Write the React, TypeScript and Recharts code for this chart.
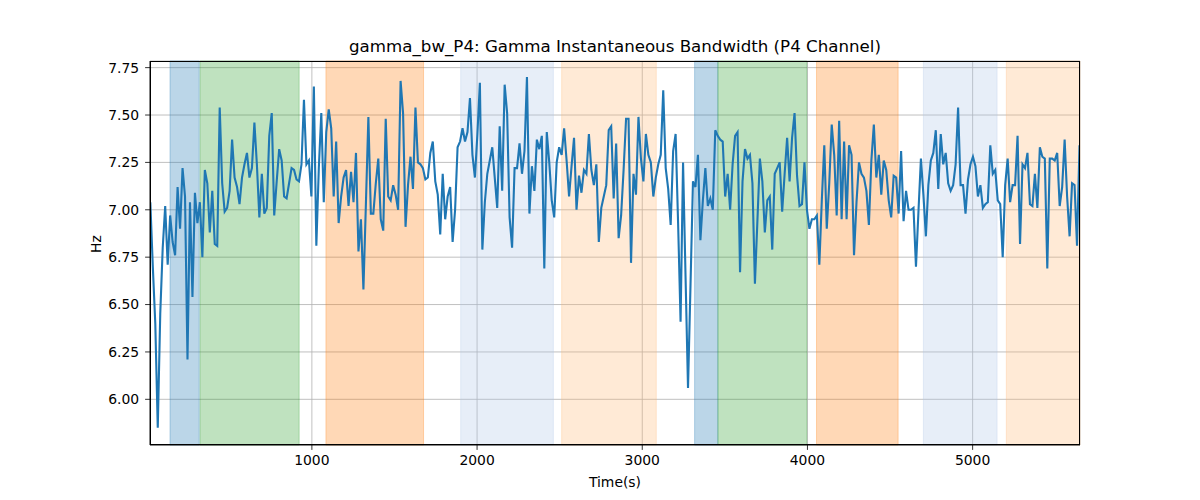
import { LineChart, Line, XAxis, YAxis, CartesianGrid, ReferenceArea } from "recharts";

// sampling of the time axis
const START_T = 22;
const STEP_T = 15;

// gamma bandwidth (Hz), read left to right in five stretches
const BW_A = [
  7.04, 6.7, 6.4, 5.85, 6.45, 6.8, 7.02, 6.71, 6.97, 6.83, 6.76, 7.12, 6.9, 7.22, 7.07, 6.21, 7.04,
  6.54, 7.09, 6.93, 7.04, 6.75, 7.21, 7.14, 6.88, 7.1, 6.82, 6.81, 7.54, 7.14, 6.99, 7.01, 7.1, 7.37,
  7.17, 7.12, 7.03, 7.17, 7.24, 7.3, 7.17, 7.22, 7.46, 7.24, 6.96, 7.19, 6.98, 7.01, 7.39, 7.51, 6.97,
  7.15, 7.32, 7.26, 7.07, 7.06, 7.14, 7.22, 7.21, 7.16, 7.15, 7.24, 7.58, 7.24, 7.26, 7.07, 7.65, 6.81,
  7.22, 7.51, 7.04, 7.41, 7.53, 7.43, 7.07, 7.36,
];
const BW_B = [
  6.93, 7.07, 7.17, 7.21, 7.02, 7.2, 7.04, 7.3, 6.78, 6.95, 6.58, 7.03, 7.49, 6.98, 6.98, 7.14, 7.27,
  6.95, 6.89, 7.48, 7.07, 7.05, 7.13, 7.08, 7.0, 7.68, 7.51, 6.91, 7.13, 7.28, 7.11, 7.54, 7.25, 7.24,
  7.22, 7.16, 7.17, 7.3, 7.36, 7.15, 7.08, 6.87, 7.19, 6.95, 7.07, 7.12, 6.83, 7.0, 7.33, 7.36, 7.43,
  7.36, 7.41, 7.59, 7.29, 7.17, 7.4, 7.67, 6.79, 7.04, 7.19, 7.26, 7.33, 7.17, 7.01, 7.44, 7.1, 7.66,
  7.51, 6.96, 6.8, 7.22, 7.22,
];
const BW_C = [
  7.35, 7.19, 7.31, 7.7, 6.98, 7.23, 7.1, 7.37, 7.32, 7.39, 6.69, 7.41, 7.25, 7.05, 6.96, 7.25, 7.33,
  7.29, 7.43, 7.26, 7.07, 7.23, 7.38, 7.0, 7.18, 7.09, 7.21, 7.19, 7.4, 7.21, 7.13, 7.24, 6.83, 7.01,
  7.07, 7.13, 7.42, 7.44, 7.06, 7.35, 6.85, 6.97, 7.21, 7.48, 7.48, 6.72, 7.19, 7.08, 7.49, 7.27, 7.15,
  7.4, 7.29, 7.25, 7.07, 7.17, 7.24, 7.29, 7.63, 7.22, 7.11, 6.92, 7.31, 7.4, 6.93, 6.41, 7.25, 6.65,
  6.06, 6.6, 7.15, 7.12, 7.29,
];
const BW_D = [
  6.84, 7.05, 7.22, 7.02, 7.06, 7.0, 7.42, 7.39, 7.37, 7.36, 7.07, 7.19, 7.0, 7.24, 7.39, 7.41, 6.67,
  7.15, 7.32, 7.27, 7.29, 7.14, 6.61, 6.94, 7.27, 7.15, 6.88, 7.05, 7.07, 6.79, 7.19, 7.22, 7.25, 6.99,
  7.19, 7.38, 7.15, 7.38, 7.51, 7.18, 7.02, 7.03, 7.25, 7.0, 6.9, 6.95, 6.95, 6.97, 6.71, 7.05, 7.34,
  6.9, 7.14, 7.45, 7.29, 6.97, 7.47, 6.95, 7.36, 6.95, 7.34, 7.29, 6.76, 7.04, 7.25, 7.19, 7.17, 7.1,
  6.92, 7.26, 7.45, 7.17, 7.29,
];
const BW_E = [
  7.08, 7.26, 7.21, 7.05, 6.96, 7.18, 7.17, 6.98, 7.31, 6.94, 7.1, 7.0, 7.0, 7.01, 6.7, 6.99, 7.27,
  7.08, 6.86, 7.13, 7.26, 7.3, 7.42, 7.11, 7.4, 7.24, 7.3, 7.14, 7.1, 7.13, 7.24, 7.54, 7.13, 7.13,
  6.98, 7.16, 7.24, 7.28, 7.23, 7.07, 7.13, 7.01, 7.03, 7.04, 7.34, 7.19, 7.21, 7.05, 7.03, 6.75, 7.13,
  7.27, 7.04, 7.13, 7.13, 7.39, 6.82, 7.24, 7.22, 7.3, 7.03, 7.02, 7.19, 7.01, 7.33, 7.28, 7.27, 6.69,
  7.27, 7.27, 7.26, 7.3, 7.02, 7.12, 7.37, 7.07, 6.86, 7.14, 7.13, 6.81, 7.34,
];

// shaded epochs: start, end (s) and colour
const SPAN_START = [141, 323, 1085, 1901, 2512, 3317, 3458, 4055, 4702, 5204];
const SPAN_END = [318, 923, 1676, 2462, 3085, 3458, 3996, 4549, 5148, 5650];
const SPAN_COLOR = [
  "#1f77b4", "#2ca02c", "#ff7f0e", "#aec7e8", "#ffbb78",
  "#1f77b4", "#2ca02c", "#ff7f0e", "#aec7e8", "#ffbb78",
];

const X_TICKS = [1000, 2000, 3000, 4000, 5000];
const Y_TICKS = [6.0, 6.25, 6.5, 6.75, 7.0, 7.25, 7.5, 7.75];
const X_DOMAIN: [number, number] = [20, 5650];
const Y_DOMAIN: [number, number] = [5.759, 7.785];

const FONT = "'DejaVu Sans', sans-serif";
const LINE_BLUE = "#1f77b4";

const rows = [...BW_A, ...BW_B, ...BW_C, ...BW_D, ...BW_E].map((v, i) => ({
  t: START_T + i * STEP_T,
  v,
}));

const W = 1200;
const H = 500;
const PLOT = { left: 150, top: 61, right: 1080, bottom: 445 };

export default function App() {
  return (
    <div
      style={{
        position: "absolute",
        left: 0,
        top: 0,
        width: W,
        height: H,
        background: "#fff",
        fontFamily: FONT,
      }}
    >
      <div
        style={{
          position: "absolute",
          left: PLOT.left,
          width: PLOT.right - PLOT.left,
          top: 37,
          lineHeight: "20px",
          fontSize: 16.67,
          textAlign: "center",
          color: "#000",
        }}
      >
        gamma_bw_P4: Gamma Instantaneous Bandwidth (P4 Channel)
      </div>

      <LineChart
        width={W}
        height={H}
        data={rows}
        margin={{ top: PLOT.top, right: W - PLOT.right, bottom: 0, left: 0 }}
      >
        {SPAN_START.map((x1, i) => (
          <ReferenceArea
            key={i}
            x1={x1}
            x2={SPAN_END[i]}
            y1={Y_DOMAIN[0]}
            y2={Y_DOMAIN[1]}
            fill={SPAN_COLOR[i]}
            fillOpacity={0.3}
            stroke={SPAN_COLOR[i]}
            strokeOpacity={0.3}
            strokeWidth={1}
          />
        ))}
        <CartesianGrid stroke="#b0b0b0" strokeWidth={0.8} />
        <XAxis
          type="number"
          dataKey="t"
          domain={X_DOMAIN}
          ticks={X_TICKS}
          allowDataOverflow
          height={H - PLOT.bottom}
          tick={{ fontSize: 13.9, fill: "#000", fontFamily: FONT }}
          tickSize={4.9}
          tickMargin={5}
          stroke="#000"
          axisLine={{ stroke: "#000", strokeWidth: 0.8 }}
          tickLine={{ stroke: "#000", strokeWidth: 0.8 }}
          label={{
            value: "Time(s)",
            position: "insideBottom",
            offset: 13,
            fontSize: 13.9,
            fill: "#000",
            fontFamily: FONT,
          }}
        />
        <YAxis
          type="number"
          domain={Y_DOMAIN}
          ticks={Y_TICKS}
          allowDataOverflow
          width={PLOT.left}
          tickFormatter={(v: number) => v.toFixed(2)}
          tick={{ fontSize: 13.9, fill: "#000", fontFamily: FONT }}
          tickSize={4.9}
          tickMargin={6}
          axisLine={{ stroke: "#000", strokeWidth: 0.8 }}
          tickLine={{ stroke: "#000", strokeWidth: 0.8 }}
          label={{
            value: "Hz",
            angle: -90,
            position: "insideLeft",
            offset: 96,
            fontSize: 13.9,
            fill: "#000",
            fontFamily: FONT,
          }}
        />
        <Line
          type="linear"
          dataKey="v"
          stroke={LINE_BLUE}
          strokeWidth={2.1}
          dot={false}
          activeDot={false}
          isAnimationActive={false}
        />
      </LineChart>

      <div
        style={{
          position: "absolute",
          left: PLOT.left,
          top: PLOT.top,
          width: PLOT.right - PLOT.left,
          height: PLOT.bottom - PLOT.top,
          border: "0.8px solid #000",
          boxSizing: "border-box",
          pointerEvents: "none",
        }}
      />
    </div>
  );
}
